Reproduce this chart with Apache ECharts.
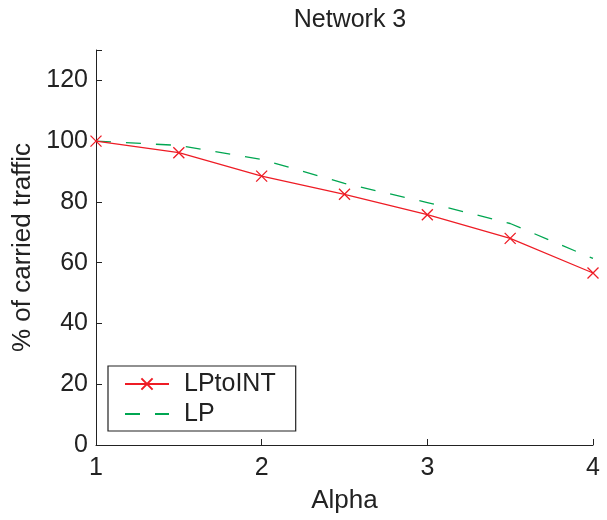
<!DOCTYPE html>
<html><head><meta charset="utf-8">
<script src="https://cdn.jsdelivr.net/npm/echarts@6/dist/echarts.min.js"></script>
<style>html,body{margin:0;padding:0;background:#fff}#c{width:607px;height:520px}</style>
</head><body><div id="c"></div>
<script>
const alpha = [1, 1.5, 2, 2.5, 3, 3.5, 4];
const lpToInt = [100, 96.2, 88.5, 82.5, 75.8, 68.0, 56.6];
const lp = [100, 98.6, 94.0, 86.1, 79.8, 72.9, 61.4];
const xTicks = [1, 2, 3, 4];
const yTicks = [0, 20, 40, 60, 80, 100, 120];

const font = 'Liberation Sans, Arial, sans-serif';
const txt = '#222';
const chart = echarts.init(document.getElementById('c'));
chart.setOption({
  animation: false,
  backgroundColor: '#fff',
  title: { text: 'Network 3', left: 345, top: 3, textAlign: 'center',
    textStyle: { fontFamily: font, fontSize: 25, fontWeight: 'normal', color: txt } },
  grid: { left: 96, right: 14, top: 50, bottom: 75 },
  xAxis: {
    type: 'value', min: 1, max: 4, interval: 1,
    name: 'Alpha', nameLocation: 'middle', nameGap: 43,
    nameTextStyle: { fontFamily: font, fontSize: 26, color: txt },
    axisLine: { onZero: false, lineStyle: { color: txt, width: 1 } },
    axisTick: { inside: true, length: 6, lineStyle: { color: txt } },
    axisLabel: { fontFamily: font, fontSize: 25, color: txt, margin: 11,
      formatter: v => xTicks.includes(v) ? String(v) : '' },
    splitLine: { show: false }
  },
  yAxis: {
    type: 'value', min: 0, max: 130, interval: 20,
    name: '% of carried traffic', nameLocation: 'middle', nameGap: 58,
    nameTextStyle: { fontFamily: font, fontSize: 26, color: txt },
    axisLine: { show: true, lineStyle: { color: txt, width: 1 } },
    axisTick: { show: true, inside: true, length: 6, lineStyle: { color: txt } },
    axisLabel: { fontFamily: font, fontSize: 25, color: txt, margin: 8,
      formatter: v => yTicks.includes(v) ? String(v) : '' },
    splitLine: { show: false }
  },
  legend: {
    orient: 'vertical', left: 108, top: 366,
    padding: [5, 20, 4, 16],
    itemGap: 4, itemWidth: 44, itemHeight: 14,
    borderColor: txt, borderWidth: 1.2, backgroundColor: '#fff',
    textStyle: { fontFamily: font, fontSize: 25, color: txt, lineHeight: 26, padding: [0, 0, 0, 10] },
    data: [
      { name: 'LPtoINT' },
      { name: 'LP', itemStyle: { color: 'rgba(0,0,0,0)', borderColor: 'rgba(0,0,0,0)', borderWidth: 0, opacity: 0 } }
    ]
  },
  series: [
    {
      name: 'LPtoINT', type: 'line',
      data: alpha.map((a, i) => [a, lpToInt[i]]),
      symbol: 'path://M0,0L10,10M10,0L0,10', symbolSize: 11,
      lineStyle: { color: '#ee1c25', width: 1.2 },
      itemStyle: { color: 'rgba(0,0,0,0)', borderColor: '#ee1c25', borderWidth: 1.3 },
      z: 3
    },
    {
      name: 'LP', type: 'line',
      data: alpha.map((a, i) => [a, lp[i]]),
      symbol: 'none', showSymbol: false,
      lineStyle: { color: '#00a651', width: 1.3, type: [15, 15] },
      itemStyle: { color: '#00a651' },
      z: 2
    }
  ]
});
</script></body></html>
